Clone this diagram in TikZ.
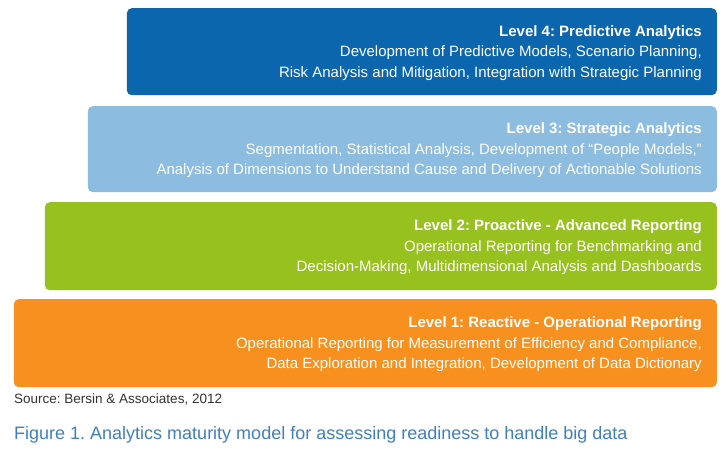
\documentclass[tikz,border=0pt]{standalone}
\usepackage{fontspec}
\setmainfont{Liberation Sans}
\usepackage{xcolor}
\usetikzlibrary{positioning}
\definecolor{lvfour}{HTML}{0B66AD}
\definecolor{lvthree}{HTML}{8CBCE0}
\definecolor{lvtwo}{HTML}{97C11F}
\definecolor{lvone}{HTML}{F7901E}
\definecolor{captionblue}{HTML}{3F80BF}
\definecolor{sourcegray}{HTML}{333333}
\frenchspacing
\tikzset{
  levelbox/.style={rectangle, rounded corners=5pt, draw=none, anchor=north east, inner sep=0pt},
  leveltext/.style={text=white, align=right, anchor=east, inner sep=0pt, font=\fontsize{15}{20.5}\selectfont},
  note/.style={anchor=west, inner sep=0pt}
}
\begin{document}
\begin{tikzpicture}
\useasboundingbox (0,0) rectangle (723pt,457pt);
\fill[white] (0,0) rectangle (723pt,457pt);

% Staircase of maturity levels
\node[levelbox, fill=lvfour, minimum width=590pt, minimum height=87pt] (lv4) at (717pt,449pt) {};
\node[levelbox, fill=lvthree, minimum width=629pt, minimum height=86pt] (lv3) at (717pt,351pt) {};
\node[levelbox, fill=lvtwo, minimum width=672pt, minimum height=88pt] (lv2) at (717pt,255pt) {};
\node[levelbox, fill=lvone, minimum width=703pt, minimum height=88pt] (lv1) at (717pt,158pt) {};

% Level descriptions
\node[leveltext] (t4) at ([xshift=-15pt,yshift=-1pt]lv4.east) {\textbf{Level 4: Predictive Analytics}\\Development of Predictive Models, Scenario Planning,\\Risk Analysis and Mitigation, Integration with Strategic Planning};
\node[leveltext] (t3) at ([xshift=-15pt,yshift=-1pt]lv3.east) {\textbf{Level 3: Strategic Analytics}\\Segmentation, Statistical Analysis, Development of ``People Models,''\\Analysis of Dimensions to Understand Cause and Delivery of Actionable Solutions};
\node[leveltext] (t2) at ([xshift=-15pt,yshift=-1pt]lv2.east) {\textbf{Level 2: Proactive - Advanced Reporting}\\Operational Reporting for Benchmarking and\\Decision-Making, Multidimensional Analysis and Dashboards};
\node[leveltext] (t1) at ([xshift=-15pt,yshift=-1pt]lv1.east) {\textbf{Level 1: Reactive - Operational Reporting}\\Operational Reporting for Measurement of Efficiency and Compliance,\\Data Exploration and Integration, Development of Data Dictionary};

% Source and caption
\node[note, text=sourcegray, font=\fontsize{13.5}{16}\selectfont] (src) at (14pt,58pt) {Source: Bersin \& Associates, 2012};
\node[note, text=captionblue, font=\fontsize{18}{21}\selectfont] (cap) at (14pt,22pt) {Figure 1. Analytics maturity model for assessing readiness to handle big data};
\end{tikzpicture}
\end{document}
